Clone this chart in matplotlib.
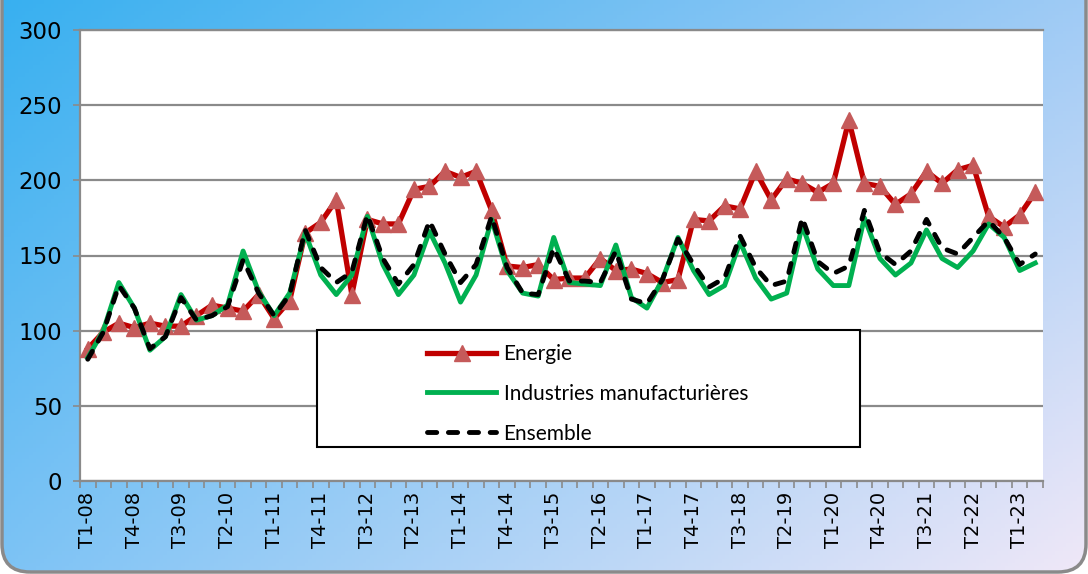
import numpy as np
import matplotlib.pyplot as plt
from matplotlib.patches import FancyBboxPatch, Rectangle

# quarters T1-08 ... T2-23
quarters = ['T%d-%02d' % (q, y) for y in range(8, 24) for q in range(1, 5)][:62]

energie = [88, 99, 105, 102, 105, 103, 103, 110, 117, 115,
           113, 124, 108, 120, 165, 172, 187, 124, 174, 171,
           171, 194, 196, 206, 202, 206, 180, 143, 142, 144,
           134, 135, 135, 148, 140, 141, 138, 132, 134, 174,
           173, 183, 181, 206, 187, 201, 198, 192, 198, 240,
           198, 196, 184, 191, 206, 198, 207, 210, 176, 169,
           177, 192]
industries = [82, 100, 132, 115, 87, 96, 124, 107, 110, 117,
              153, 126, 110, 125, 165, 137, 124, 137, 176, 144,
              124, 137, 166, 145, 119, 137, 174, 140, 125, 123,
              162, 132, 131, 130, 157, 122, 115, 134, 162, 140,
              124, 130, 159, 135, 121, 125, 170, 141, 130, 130,
              175, 148, 137, 145, 167, 148, 142, 153, 171, 162,
              140, 145]
ensemble = [81, 99, 130, 115, 88, 96, 122, 107, 110, 116,
            147, 125, 110, 124, 167, 142, 132, 139, 177, 148,
            131, 144, 173, 151, 132, 144, 176, 142, 125, 124,
            155, 133, 133, 132, 153, 121, 118, 134, 161, 144,
            129, 135, 163, 142, 130, 133, 175, 146, 138, 143,
            180, 152, 144, 153, 174, 155, 151, 162, 173, 162,
            144, 151]

W, H = 1088, 574
fig = plt.figure(figsize=(W / 100, H / 100), dpi=100)
fig.patch.set_facecolor('white')

# gradient background with rounded frame
bg = fig.add_axes([0, 0, 1, 1], zorder=-10)
bg.set_xlim(0, W)
bg.set_ylim(0, H)
bg.set_axis_off()
yy, xx = np.mgrid[0:1:150j, 0:1:300j]
tl = np.array([56, 176, 240]) / 255
tr = np.array([160, 203, 245]) / 255
bl = np.array([125, 195, 245]) / 255
br = np.array([240, 232, 248]) / 255
xx, yy = xx[..., None], yy[..., None]
img = (tl * (1 - xx) * (1 - yy) + tr * xx * (1 - yy)
       + bl * (1 - xx) * yy + br * xx * yy)
im = bg.imshow(img, extent=[0, W, 0, H], aspect='auto', origin='upper')
frame = FancyBboxPatch((2, 2), W - 4, H + 60,
                       boxstyle='round,pad=0,rounding_size=28',
                       fc='none', ec='#8a8a8a', lw=2.5)
bg.add_patch(frame)
im.set_clip_path(frame)

ax = fig.add_axes([80 / W, (H - 481) / H, 963 / W, 451 / H])
ax.set_facecolor('white')
x = np.arange(len(quarters))

ax.plot(x, energie, color='#C00000', lw=3.8, marker='^', ms=11,
        mfc='#C55A5A', mec='#C55A5A', label='Energie', zorder=3)
ax.plot(x, industries, color='#00B050', lw=3.5,
        label='Industries manufacturières', zorder=4)
ax.plot(x, ensemble, color='black', lw=3.5, dashes=(1.9, 2.4),
        dash_capstyle='round', label='Ensemble', zorder=5)

ax.set_xlim(-0.5, len(quarters) - 0.5)
ax.set_ylim(0, 300)
ax.set_yticks(np.arange(0, 301, 50))
ax.set_xticks(x[::3])
ax.set_xticklabels(quarters[::3], rotation=90)
ax.set_xticks(np.arange(-0.5, len(quarters), 1), minor=True)
ax.tick_params(axis='x', which='major', length=0, pad=8, labelsize=14)
ax.tick_params(axis='x', which='minor', length=5, color='#8a8a8a', width=1.2)
ax.tick_params(axis='y', length=5, color='#8a8a8a', width=1.2, pad=8,
               labelsize=16.5)
ax.grid(axis='y', color='#8a8a8a', lw=1.6)
ax.set_axisbelow(True)
for s in ['left', 'bottom', 'top']:
    ax.spines[s].set_color('#8a8a8a')
    ax.spines[s].set_linewidth(1.6)
ax.spines['right'].set_visible(False)

ax.add_patch(Rectangle((0.246, 0.075), 0.564, 0.26, transform=ax.transAxes,
                       fc='white', ec='black', lw=1.5, zorder=6))
leg = ax.legend(loc='upper left', bbox_to_anchor=(0.350, 0.327),
                frameon=False, handlelength=3.3, labelspacing=0.95,
                handletextpad=0.35, borderpad=0,
                prop={'family': 'Lato', 'size': 15})
leg.set_zorder(7)

fig.savefig('out.png', dpi=100)
